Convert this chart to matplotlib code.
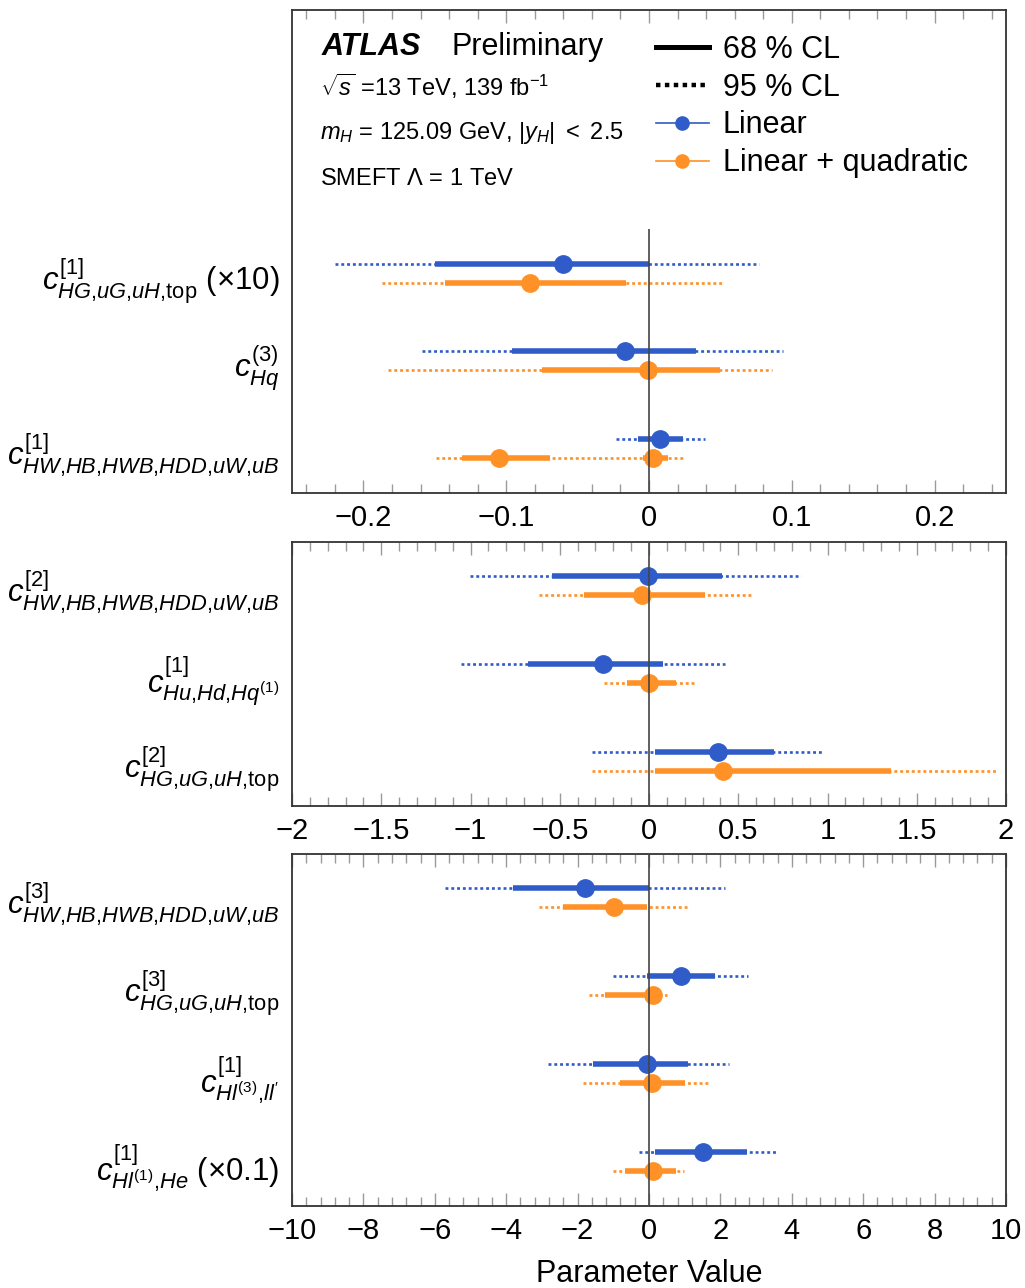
import numpy as np
import matplotlib
matplotlib.use("Agg")
import matplotlib.pyplot as plt
from matplotlib.lines import Line2D
from matplotlib.ticker import MultipleLocator, FuncFormatter

plt.rcParams['font.family'] = ['Liberation Sans', 'DejaVu Sans']
plt.rcParams['mathtext.fontset'] = 'custom'
plt.rcParams['mathtext.rm'] = 'Liberation Sans'
plt.rcParams['mathtext.it'] = 'Liberation Sans:italic'
plt.rcParams['mathtext.bf'] = 'Liberation Sans:bold'

BLUE = '#2f5cc8'
ORANGE = '#ff9126'

# --- panel 1 (top) ---
labels1 = [r'$c^{[1]}_{HG{,}uG{,}uH{,}\mathrm{top}}\ (\times10)$',
           r'$c^{(3)}_{Hq}$',
           r'$c^{[1]}_{HW{,}HB{,}HWB{,}HDD{,}uW{,}uB}$']
lin1_best = [[-0.060], [-0.017], [0.008]]
lin1_68 = [[(-0.150, 0.000)], [(-0.096, 0.033)], [(-0.008, 0.024)]]
lin1_95 = [(-0.220, 0.077), (-0.159, 0.094), (-0.023, 0.039)]
quad1_best = [[-0.083], [-0.001], [-0.105, 0.003]]
quad1_68 = [[(-0.143, -0.016)], [(-0.075, 0.050)], [(-0.131, -0.069), (-0.004, 0.013)]]
quad1_95 = [(-0.187, 0.051), (-0.183, 0.086), (-0.149, 0.024)]

# --- panel 2 (middle) ---
labels2 = [r'$c^{[2]}_{HW{,}HB{,}HWB{,}HDD{,}uW{,}uB}$',
           r'$c^{[1]}_{Hu{,}Hd{,}Hq^{(1)}}$',
           r'$c^{[2]}_{HG{,}uG{,}uH{,}\mathrm{top}}$']
lin2_best = [[-0.008], [-0.260], [0.387]]
lin2_68 = [[(-0.541, 0.410)], [(-0.678, 0.077)], [(0.036, 0.698)]]
lin2_95 = [(-1.005, 0.851), (-1.054, 0.428), (-0.317, 0.979)]
quad2_best = [[-0.041], [0.000], [0.412]]
quad2_68 = [[(-0.366, 0.314)], [(-0.126, 0.149)], [(0.036, 1.353)]]
quad2_95 = [(-0.616, 0.582), (-0.253, 0.258), (-0.322, 1.950)]

# --- panel 3 (bottom) ---
labels3 = [r'$c^{[3]}_{HW{,}HB{,}HWB{,}HDD{,}uW{,}uB}$',
           r'$c^{[3]}_{HG{,}uG{,}uH{,}\mathrm{top}}$',
           r"$c^{[1]}_{Hl^{(3)}{,}ll'}$",
           r'$c^{[1]}_{Hl^{(1)}{,}He}\ (\times0.1)$']
lin3_best = [[-1.78], [0.89], [-0.06], [1.52]]
lin3_68 = [[(-3.80, 0.00)], [(-0.05, 1.85)], [(-1.56, 1.08)], [(0.17, 2.74)]]
lin3_95 = [(-5.71, 2.14), (-1.02, 2.78), (-2.82, 2.23), (-0.28, 3.62)]
quad3_best = [[-0.98], [0.10], [0.08], [0.10]]
quad3_68 = [[(-2.42, -0.05)], [(-1.24, 0.15)], [(-0.80, 1.00)], [(-0.67, 0.75)]]
quad3_95 = [(-3.08, 1.16), (-1.67, 0.51), (-1.85, 1.65), (-1.02, 0.98)]


def fmt(v, pos):
    return f'{v:g}'.replace('-', '\u2212')


def draw_series(ax, best, i68, i95, color, dy):
    for i in range(len(best)):
        y = i + dy
        lo, hi = i95[i]
        ax.plot([lo, hi], [y, y], color=color, lw=1.9, ls=(0, (1.1, 1.1)),
                solid_capstyle='butt', dash_capstyle='butt', zorder=2)
        for lo, hi in i68[i]:
            ax.plot([lo, hi], [y, y], color=color, lw=4.0,
                    solid_capstyle='butt', zorder=3)
        ax.plot(best[i], [y] * len(best[i]), 'o', color=color, ms=12.5,
                mec=color, zorder=4)


def setup(ax, labels, xlim, major, minor):
    ax.set_xlim(*xlim)
    ax.set_yticks(range(len(labels)))
    ax.set_yticklabels(labels, fontsize=22.5)
    ax.tick_params(axis='y', length=0, pad=9)
    ax.xaxis.set_major_locator(MultipleLocator(major))
    ax.xaxis.set_minor_locator(MultipleLocator(minor))
    ax.xaxis.set_major_formatter(FuncFormatter(fmt))
    ax.tick_params(axis='x', which='both', direction='in', top=True,
                   bottom=True, color='#9a9a9a', width=1.0, labelsize=21,
                   pad=8)
    ax.tick_params(axis='x', which='major', length=9.5)
    ax.tick_params(axis='x', which='minor', length=6.5)
    for s in ax.spines.values():
        s.set_color('#333333')
        s.set_linewidth(1.3)


fig = plt.figure(figsize=(10.25, 12.88), dpi=100)
W, H = 1025.0, 1288.0


def add_ax(x0, y0, x1, y1):
    return fig.add_axes([x0 / W, 1 - y1 / H, (x1 - x0) / W, (y1 - y0) / H])


ax1 = add_ax(292, 10, 1006, 492.5)
ax2 = add_ax(292, 541.5, 1006, 806)
ax3 = add_ax(292, 853.5, 1006, 1205.5)

off = 0.108
panels = [
    (ax1, labels1, lin1_best, lin1_68, lin1_95, quad1_best, quad1_68, quad1_95, (-0.25, 0.25), 0.1, 0.02),
    (ax2, labels2, lin2_best, lin2_68, lin2_95, quad2_best, quad2_68, quad2_95, (-2, 2), 0.5, 0.1),
    (ax3, labels3, lin3_best, lin3_68, lin3_95, quad3_best, quad3_68, quad3_95, (-10, 10), 2, 0.4),
]
for ax, labs, lb, l68, l95, qb, q68, q95, xl, mj, mn in panels:
    draw_series(ax, lb, l68, l95, BLUE, -off)
    draw_series(ax, qb, q68, q95, ORANGE, off)
    setup(ax, labs, xl, mj, mn)

ax1.set_ylim(2.5, -3.0)
ax2.set_ylim(2.5, -0.5)
ax3.set_ylim(3.5, -0.5)

ax1.vlines(0, -0.5, 2.5, color='#444444', lw=1.2, zorder=5)
ax2.axvline(0, color='#444444', lw=1.2, zorder=5)
ax3.axvline(0, color='#444444', lw=1.2, zorder=5)

ax3.set_xlabel('Parameter Value', fontsize=22, labelpad=10)

# ATLAS labels
ax1.text(0.042, 0.9067, 'ATLAS', transform=ax1.transAxes, fontsize=22,
         fontweight='bold', style='italic', va='baseline')
ax1.text(0.2227, 0.9067, 'Preliminary', transform=ax1.transAxes,
         fontsize=22, va='baseline')
ax1.text(0.039, 0.822, r'$\sqrt{s}$ =13 TeV, 139 fb$^{-1}$',
         transform=ax1.transAxes, fontsize=17, va='baseline')
ax1.text(0.039, 0.733, r'$m_H$ = 125.09 GeV, $|y_H|$ $<$ 2.5',
         transform=ax1.transAxes, fontsize=17, va='baseline')
ax1.text(0.039, 0.637, r'SMEFT $\Lambda$ = 1 TeV',
         transform=ax1.transAxes, fontsize=17, va='baseline')

handles = [
    Line2D([], [], color='black', lw=3.6),
    Line2D([], [], color='black', lw=3.2, ls=(0, (1, 1))),
    Line2D([], [], color=BLUE, lw=1.2, marker='o', ms=9.5),
    Line2D([], [], color=ORANGE, lw=1.2, marker='o', ms=9.5),
]
ax1.legend(handles, ['68 % CL', '95 % CL', 'Linear', 'Linear + quadratic'],
           loc='upper left', bbox_to_anchor=(0.5098, 0.949), frameon=False,
           fontsize=22, handlelength=1.73, handletextpad=0.45,
           labelspacing=0.26, borderpad=0, borderaxespad=0)

fig.savefig('out.png', dpi=100)
